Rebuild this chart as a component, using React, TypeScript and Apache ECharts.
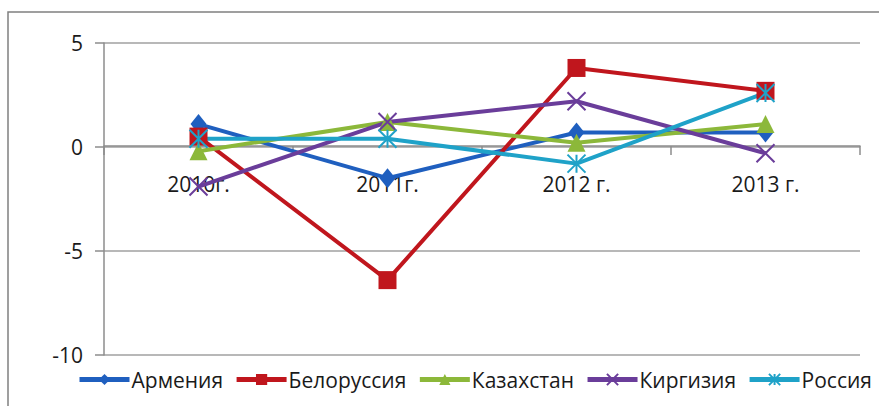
import React, { useEffect, useRef } from "react";
import * as echarts from "echarts";

const categories = ["2010г.", "2011г.", "2012 г.", "2013 г."];
const seriesNames = ["Армения", "Белоруссия", "Казахстан", "Киргизия", "Россия"];
const armenia = [1.1, -1.5, 0.7, 0.7];
const belarus = [0.5, -6.4, 3.8, 2.7];
const kazakhstan = [-0.2, 1.2, 0.2, 1.1];
const kirgizia = [-1.9, 1.2, 2.2, -0.3];
const russia = [0.4, 0.4, -0.8, 2.6];
const yTicks = { min: -10, max: 5, interval: 5 };

const colors = ["#1f5fbf", "#c0161d", "#8cb83a", "#6a3d9a", "#1fa2c8"];
const symbols = [
  "diamond",
  "rect",
  "triangle",
  "path://M0,0L10,10M10,0L0,10",
  "path://M5,0L5,10M0,0L10,10M10,0L0,10",
];
const symbolSizes = [[16, 20], 18, 18, 18, 18];

export default function App() {
  const ref = useRef<HTMLDivElement>(null);
  useEffect(() => {
    document.body.style.margin = "0";
    const chart = echarts.init(ref.current!, null, { renderer: "svg" });
    const data = [armenia, belarus, kazakhstan, kirgizia, russia];
    const font = "'Open Sans', 'Noto Sans', sans-serif";
    chart.setOption({
      animation: false,
      textStyle: { fontFamily: font },
      graphic: [
        {
          type: "rect",
          shape: { x: 8, y: 12, width: 900, height: 420 },
          style: { fill: "none", stroke: "#808080", lineWidth: 1.5 },
          silent: true,
        },
      ],
      grid: { left: 104, right: 19, top: 43, bottom: 51 },
      legend: {
        left: 72,
        top: 364,
        itemWidth: 50,
        itemHeight: 14,
        itemGap: 11,
        lineStyle: { width: 5 },
        textStyle: { fontFamily: font, fontSize: 21, color: "#1a1a1a", padding: [0, 0, 0, -3] },
        data: seriesNames,
      },
      xAxis: {
        type: "category",
        data: categories,
        boundaryGap: true,
        offset: -209,
        axisLine: { onZero: false, lineStyle: { color: "#8c8c8c", width: 1.5 } },
        axisTick: { show: true, length: 9, lineStyle: { color: "#8c8c8c", width: 1.5 } },
        axisLabel: { margin: 27, fontSize: 21, color: "#1a1a1a", fontFamily: font },
        splitLine: { show: false },
      },
      yAxis: {
        type: "value",
        min: yTicks.min,
        max: yTicks.max,
        interval: yTicks.interval,
        axisLine: { show: true, lineStyle: { color: "#8c8c8c", width: 1.5 } },
        axisTick: { show: true, length: 9, lineStyle: { color: "#8c8c8c", width: 1.5 } },
        axisLabel: { margin: 21, fontSize: 21, color: "#1a1a1a", fontFamily: font },
        splitLine: { show: true, lineStyle: { color: "#a0a0a0", width: 1.5 } },
      },
      series: seriesNames.map((name, i) => ({
        name,
        type: "line",
        data: data[i],
        symbol: symbols[i],
        symbolSize: symbolSizes[i],
        showAllSymbol: true,
        lineStyle: { color: colors[i], width: 4 },
        itemStyle: {
          color: colors[i],
          borderColor: colors[i],
          borderWidth: i >= 3 ? 2 : 0,
        },
        emphasis: { disabled: true },
      })),
    });
    return () => chart.dispose();
  }, []);
  return <div ref={ref} style={{ width: 879, height: 406 }} />;
}
